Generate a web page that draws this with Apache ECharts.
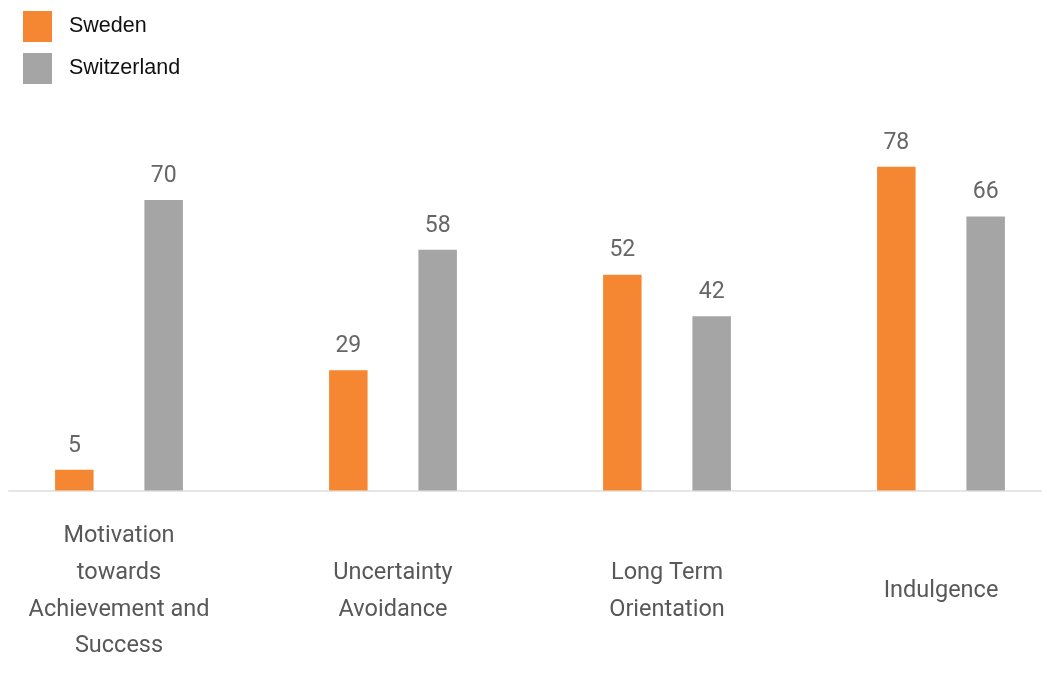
<!DOCTYPE html>
<html>
<head>
<meta charset="utf-8">
<script src="https://cdn.jsdelivr.net/npm/echarts@6/dist/echarts.min.js"></script>
<style>
html,body{margin:0;padding:0;background:#fff;}
#chart{width:1047px;height:695px;}
</style>
</head>
<body>
<div id="chart"></div>
<script>
const categories = ['Motivation\ntowards\nAchievement and\nSuccess', 'Uncertainty\nAvoidance', 'Long Term\nOrientation', 'Indulgence'];
const sweden = [5, 29, 52, 78];
const switzerland = [70, 58, 42, 66];
const seriesNames = ['Sweden', 'Switzerland'];

const labelFont = 'Roboto';
const chart = echarts.init(document.getElementById('chart'));
const valueLabel = {
  show: true,
  position: 'top',
  distance: 12,
  color: '#666666',
  fontFamily: labelFont,
  fontSize: 23,
  lineHeight: 24
};
chart.setOption({
  animation: false,
  backgroundColor: '#ffffff',
  legend: {
    orient: 'vertical',
    left: 18,
    top: 6,
    itemWidth: 29,
    itemHeight: 31,
    itemGap: 11,
    icon: 'rect',
    data: seriesNames,
    textStyle: {
      fontFamily: 'Liberation Sans',
      fontSize: 21.5,
      color: '#111111',
      padding: [0, 0, 0, 12]
    }
  },
  grid: [
    {left: -18, width: 1096, top: 75.5, height: 415, containLabel: false, outerBoundsMode: 'none'},
    {left: 9, width: 1032, top: 75.5, height: 415, containLabel: false, outerBoundsMode: 'none'}
  ],
  xAxis: [
    {
      type: 'category',
      gridIndex: 0,
      data: categories,
      axisLine: {show: false},
      axisTick: {show: false},
      axisLabel: {
        interval: 0,
        margin: 101,
        verticalAlign: 'middle',
        color: '#585858',
        fontFamily: labelFont,
        fontSize: 23.5,
        lineHeight: 36.7
      }
    },
    {
      type: 'category',
      gridIndex: 1,
      data: categories,
      axisLine: {show: true, lineStyle: {color: '#e6e6e6', width: 2}},
      axisTick: {show: false},
      axisLabel: {show: false}
    }
  ],
  yAxis: [
    {type: 'value', gridIndex: 0, min: 0, max: 100, show: false},
    {type: 'value', gridIndex: 1, min: 0, max: 100, show: false}
  ],
  series: [
    {
      name: seriesNames[0],
      type: 'bar',
      xAxisIndex: 0,
      yAxisIndex: 0,
      data: sweden,
      barWidth: 38.5,
      barGap: '132%',
      itemStyle: {color: '#F58733'},
      label: valueLabel
    },
    {
      name: seriesNames[1],
      type: 'bar',
      xAxisIndex: 0,
      yAxisIndex: 0,
      data: switzerland,
      barWidth: 38.5,
      barGap: '132%',
      itemStyle: {color: '#A5A5A5'},
      label: valueLabel
    }
  ]
});
</script>
</body>
</html>
